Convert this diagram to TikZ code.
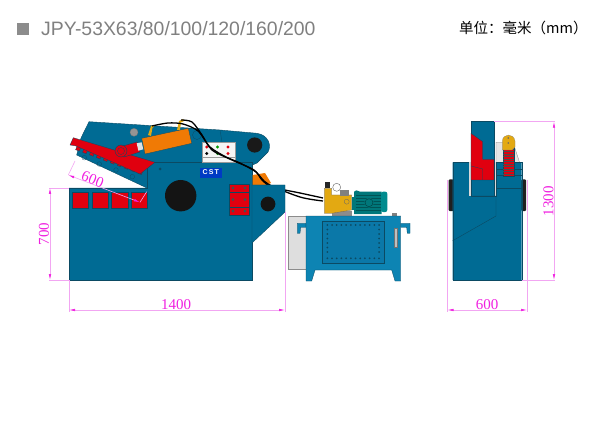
\documentclass[tikz,border=0pt]{standalone}
\usepackage{fontspec}
\setmainfont{Liberation Serif}
\setsansfont{Liberation Sans}
\newfontfamily\cjkfont{Noto Sans CJK SC}
\usetikzlibrary{calc,arrows.meta}
\definecolor{frameblue}{HTML}{006B94}
\definecolor{tankblue}{HTML}{0D84B3}
\definecolor{panelblue}{HTML}{0B78A8}
\definecolor{edgeblue}{HTML}{0B4A63}
\definecolor{bladered}{HTML}{E0000F}
\definecolor{cylorange}{HTML}{F07A05}
\definecolor{pumpyellow}{HTML}{E3A912}
\definecolor{motorgreen}{HTML}{00777A}
\definecolor{dimpink}{HTML}{F2A6F2}
\definecolor{dimtext}{HTML}{F020E0}
\tikzset{
  part/.style={fill=frameblue,draw=edgeblue,line width=0.4pt},
  redpart/.style={fill=bladered,draw=edgeblue,line width=0.3pt},
  hose/.style={draw=black,line width=1.3pt},
  extline/.style={draw=dimpink,line width=0.6pt},
  dimline/.style={draw=dimpink,line width=0.6pt,{Latex[length=6pt,width=2.5pt,color=dimtext]}-{Latex[length=6pt,width=2.5pt,color=dimtext]}},
  dimlabel/.style={text=dimtext,font=\fontsize{15}{15}\selectfont,inner sep=0pt}
}
\newcommand{\RedSquare}[2]{%
\fill[redpart] (#1,191.7) rectangle (#2,208.3);%
}
\newcommand{\BoltDot}[3]{%
\fill[#3] (#1,#2) circle (1.6pt);%
}
\begin{document}
\begin{tikzpicture}[x=1pt,y=-1pt]
    \useasboundingbox (0,0) rectangle (600,433);
    % title line
    \fill[color=black!45] (17.3,23.5) rectangle (28.8,35);
    \node[anchor=west,inner sep=0pt,text=black!50,font=\sffamily\fontsize{19.4}{19}\selectfont] (title) at (41,28.5) {JPY-53X63/80/100/120/160/200};
    \node[anchor=west,inner sep=0pt,font=\cjkfont\fontsize{14.5}{14}\selectfont] (unit) at (459,28) {单位：毫米（mm）};
    % upper jaw
    \fill[part] (89,121.7) -- (220,130) -- (257,133.3) .. controls (268,135) and (272,145) .. (268,152) -- (257,163) -- (230,175) -- (147,188) -- (76.7,155) -- (81,138) -- cycle;
    \draw[color=edgeblue,line width=0.3pt] (220,130) -- (222,142);
    \draw[color=edgeblue,line width=0.3pt] (84.3,157.7) circle (2.3pt) (99.3,164) circle (2.3pt) (116,170) circle (2.3pt) (132.3,176.7) circle (2.3pt) (197,135) circle (4.5pt);
    \fill[color=black!42,draw=black!55,line width=0.3pt] (134,132.3) circle (4pt);
    \fill[color=black!90] (254.7,145) circle (7.6pt);
    % frame
    \fill[part] (147,162.3) -- (252,162.3) -- (252,280) -- (69,280) -- (69,188) -- (147,188) -- cycle;
    \fill[color=black!4,draw=black!40,line width=0.3pt] (201.7,142.3) rectangle (235,162.3);
    \draw[color=black!40,line width=0.3pt] (201.7,157) -- (235,157);
    \BoltDot{206.7}{147}{bladered}
    \BoltDot{228}{147}{bladered}
    \BoltDot{228}{153.5}{bladered}
    \BoltDot{217.5}{147}{green!60!black}
    \BoltDot{217.5}{153.5}{green!60!black}
    \BoltDot{206.7}{153.5}{black}
    \fill[color=blue!45!frameblue] (200,168) rectangle (221.7,178.3);
    \node[inner sep=0pt,text=white,font=\sffamily\bfseries\fontsize{7}{7}\selectfont] (logo) at (210.8,172.5) {C\,S\,T};
    \fill[color=edgeblue] (160,169) circle (1.5pt);
    \fill[color=black!92] (180.7,195.7) circle (15.7pt);
    \RedSquare{71.7}{88.3}
    \RedSquare{91.7}{108}
    \RedSquare{111.3}{127.7}
    \RedSquare{131.3}{147.3}
    \fill[redpart] (229.3,184) rectangle (249.3,215.3);
    \draw[color=edgeblue,line width=0.3pt] (229.3,192) -- (249.3,192) (229.3,207) -- (249.3,207);
    \foreach \y in {188,199.5,211} {
      \BoltDot{233}{\y}{black!70}
      \BoltDot{245}{\y}{black!70}
    }
    % blade with teeth
    \foreach \t in {0.04,0.14,...,0.95} {
      \fill[redpart] ($(76,146)!\t!(145,172)$) ++(-1.9,-0.7) -- ++(-1.2,3.4) -- ++(3.7,1.4) -- ++(1.2,-3.4) -- cycle;
    }
    \fill[redpart] (70,145) -- (73.3,137.7) -- (155,162.3) -- (140,174) -- (76,146) -- cycle;
    % cylinder
    \fill[color=bladered,draw=edgeblue,line width=0.4pt] (123,146) -- (137,142) -- (140,152) -- (124,157) -- cycle;
    \fill[color=bladered,draw=edgeblue,line width=0.4pt] (121,151) circle (6pt);
    \draw[color=edgeblue,line width=0.3pt] (121,151) circle (3.5pt);
    \fill[color=black!12] (136.7,143.3) -- (141.7,142.3) -- (143.3,149.3) -- (138.3,150.7) -- cycle;
    \fill[color=pumpyellow] (148,135) -- (151,126) -- (154,125) -- (154,127) -- (152.5,127.5) -- (151,136) -- cycle;
    \fill[color=pumpyellow] (177,130) -- (179,121) -- (183,119) -- (184,121) -- (181,122.5) -- (180,130) -- cycle;
    \fill[color=cylorange,draw=edgeblue,line width=0.3pt] (141.7,138.3) -- (188.3,128.3) -- (191.7,143.3) -- (145,154) -- cycle;
    % orange wedge and hoses
    \fill[color=cylorange] (252.7,175) -- (265,173) -- (271,183) -- (252.7,192) -- cycle;
    \draw[hose,smooth] plot coordinates {(152,126) (168,123) (183,124) (198,131) (210,147) (226,157) (240,163) (256,172) (268,184) (300,197) (323,201)};
    \draw[hose,smooth] plot coordinates {(181,120) (192,122) (202,135) (212,150) (232,160) (254,170) (262,180) (272,187) (300,193) (323,198)};
    % side plate
    \fill[part] (252,185) -- (285,185) -- (285,212) -- (252,243) -- cycle;
    \fill[color=black!92] (268,204) circle (7.4pt);
    % power pack
    \fill[color=black!13,draw=black!45,line width=0.4pt] (288.3,216) rectangle (306,269.3);
    \fill[color=black!45] (331.7,211) rectangle (351.7,216);
    \fill[color=black!85] (325,181.7) rectangle (330,188.3);
    \fill[color=pumpyellow,draw=black!60,line width=0.3pt] (324.3,188.3) -- (331.7,188.3) -- (331.7,195) -- (351.7,195) -- (351.7,210) -- (331.7,213.3) -- (324.3,213.3) -- cycle;
    \fill[color=black!50] (340,190) rectangle (349,196);
    \fill[color=white,draw=black!60,line width=0.4pt] (336.7,187.3) circle (4pt);
    \draw[color=black!60,line width=0.3pt] (346.7,201.7) circle (2.5pt);
    \fill[color=motorgreen] (354,191.7) .. controls (356,190) .. (360,191.7) -- (381.7,191.7) -- (381.7,214) -- (354,214) -- cycle;
    \fill[color=motorgreen!85!cyan,rounded corners=2pt] (381,191.7) rectangle (387.3,212);
    \foreach \y in {195,198,...,212} {
      \draw[color=black!30!motorgreen,line width=0.3pt] (356,\y) -- (381,\y);
    }
    \fill[color=motorgreen] (369,202.7) circle (5pt);
    \draw[color=black!50!motorgreen,line width=0.4pt] (369,202.7) circle (4pt);
    \fill[color=motorgreen] (351.7,197) rectangle (354,210);
    \fill[color=black!50] (392.3,213.3) rectangle (396.7,216);
    \fill[color=tankblue,draw=edgeblue,line width=0.3pt] (306,223.3) -- (297.3,223.3) -- (297.3,233.3) -- (300,233.3) -- (300.7,227.3) -- (306,227.3) -- cycle;
    \fill[color=tankblue,draw=edgeblue,line width=0.3pt] (400.7,223.3) -- (410,223.3) -- (410,233.3) -- (407.3,233.3) -- (406.7,227.3) -- (400.7,227.3) -- cycle;
    \fill[color=tankblue,draw=edgeblue,line width=0.3pt] (306,216) -- (400.7,216) -- (400.7,281) -- (395,281) -- (391.7,270) -- (315,270) -- (311.7,281) -- (306,281) -- cycle;
    \fill[color=panelblue,draw=edgeblue,line width=0.4pt] (321.7,221) rectangle (384.3,262.7);
    \foreach \x in {327.3,332,...,380} {
      \fill[color=edgeblue] (\x,225) circle (1pt);
      \fill[color=edgeblue] (\x,258.3) circle (1pt);
    }
    \foreach \y in {229.5,234,...,255} {
      \fill[color=edgeblue] (327.3,\y) circle (1pt);
      \fill[color=edgeblue] (379,\y) circle (1pt);
    }
    \fill[color=black!25,draw=black!55,line width=0.3pt] (394,228.3) rectangle (396.7,246.7);
    % side view
    \fill[color=black!10,draw=black!50,line width=0.3pt] (496,142.3) -- (513,142.3) -- (519.5,162.3) -- (496,162.3) -- cycle;
    \fill[color=black!88,rounded corners=1pt] (448.5,179.5) rectangle (453.5,211);
    \fill[color=black!88,rounded corners=1pt] (521,179.5) rectangle (526,211);
    \fill[part] (452.7,162.3) -- (471,162.3) -- (471,196) -- (496,196) -- (496,162.3) -- (521.7,162.3) -- (521.7,280) -- (452.7,280) -- cycle;
    \draw[color=black!15,line width=1.5pt] (470,162.3) -- (470,196) (495,162.3) -- (495,196);
    \fill[part] (471,121.7) rectangle (494,196);
    \fill[redpart] (471,133.3) -- (482.7,141.7) -- (482.7,159.3) -- (494,159.3) -- (494,180) -- (471,180) -- cycle;
    \draw[color=edgeblue,line width=0.3pt] (471,166) -- (482.7,169) -- (482.7,180);
    \draw[color=edgeblue,line width=0.4pt] (471,196) -- (496,196) -- (496,216) -- (452.7,240.7);
    \draw[color=edgeblue,line width=0.4pt] (496,169.3) -- (521.7,169.3) (496,175.7) -- (521.7,175.7) (496,188.3) -- (521.7,188.3);
    \fill[color=bladered,draw=edgeblue,line width=0.2pt] (503.3,146.7) rectangle (514,175.7);
    \foreach \y in {149,151.5,...,175} {
      \draw[color=black!70,line width=0.6pt] (503.3,\y) -- (514,\y);
    }
    \fill[color=pumpyellow,draw=black!50,line width=0.2pt] (502.3,150) -- (502.3,141) .. controls (503,133) and (514,133) .. (515,141) -- (515,147) -- (512,150) -- cycle;
    \fill[color=black!60] (508.3,138) circle (0.9pt) (508.3,143) circle (0.9pt);
    % dimensions
    \coordinate (jawtop) at (494,121.7);
    \coordinate (jawtopend) at (555,121.7);
    \coordinate (sidefoot) at (521.7,280);
    \coordinate (sidefootend) at (555,280);
    \draw[extline] (jawtop) -- (jawtopend);
    \draw[extline] (sidefoot) -- (sidefootend);
    \draw[dimline] (554,121.7) -- (554,280);
    \node[dimlabel,rotate=90] (dimheight) at (548.5,201) {1300};
    \coordinate (sideleft) at (447.5,180);
    \coordinate (sideleftend) at (447.5,312);
    \coordinate (sideright) at (527,180);
    \coordinate (siderightend) at (527,312);
    \draw[extline] (sideleft) -- (sideleftend);
    \draw[extline] (sideright) -- (siderightend);
    \draw[dimline] (447.5,310) -- (527,310);
    \node[dimlabel] (dimdepth) at (487,305) {600};
    \coordinate (bodyleft) at (69,280);
    \coordinate (bodyleftend) at (69,312);
    \coordinate (plateright) at (285,212);
    \coordinate (platerightend) at (285,312);
    \draw[extline] (bodyleft) -- (bodyleftend);
    \draw[extline] (plateright) -- (platerightend);
    \draw[dimline] (69,310) -- (285,310);
    \node[dimlabel] (dimlength) at (176,305) {1400};
    \coordinate (bedtop) at (69,188);
    \coordinate (bedtopend) at (49,188);
    \coordinate (bedfoot) at (69,280);
    \coordinate (bedfootend) at (49,280);
    \draw[extline] (bedtop) -- (bedtopend);
    \draw[extline] (bedfoot) -- (bedfootend);
    \draw[dimline] (50,188) -- (50,280);
    \node[dimlabel,rotate=90] (dimbed) at (44,234) {700};
    \coordinate (bladetip) at (75,161);
    \coordinate (openstart) at (68.3,175);
    \coordinate (openend) at (140,202.3);
    \coordinate (opentip) at (146.7,191.7);
    \draw[extline] (bladetip) -- (openstart);
    \draw[extline] (opentip) -- (openend);
    \draw[dimline] (openstart) -- (openend);
    \node[dimlabel,rotate=-22] (dimopen) at (92.7,179.3) {600};
  \end{tikzpicture}
\end{document}
